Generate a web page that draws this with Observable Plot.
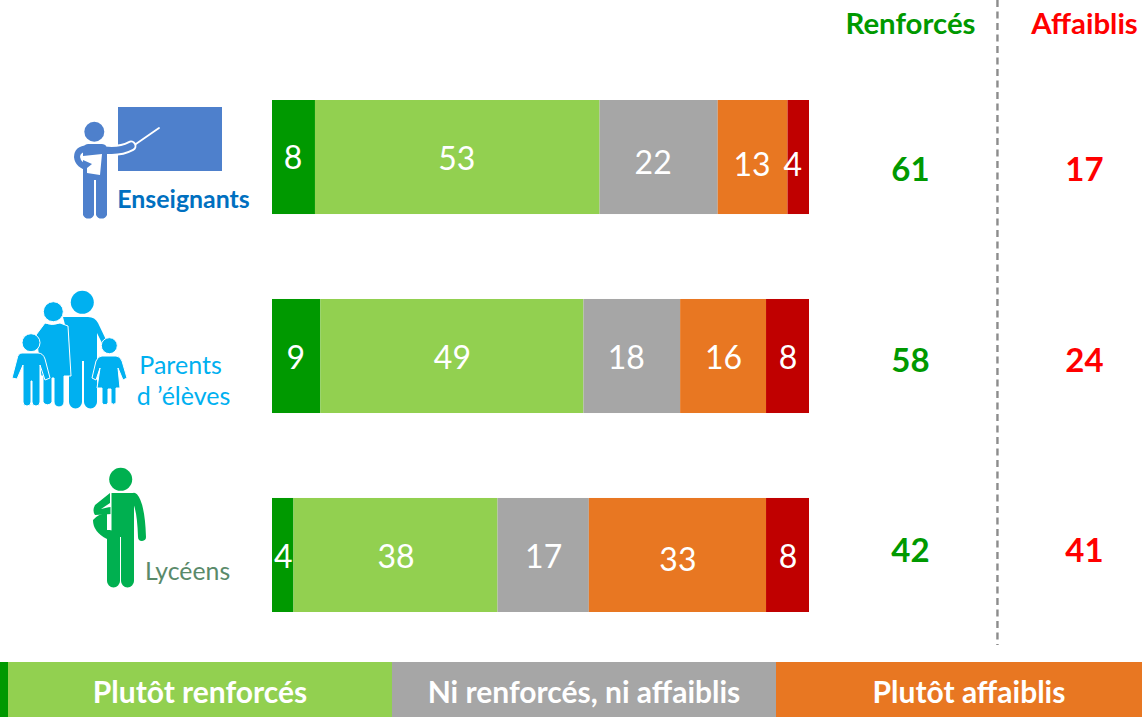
<!DOCTYPE html>
<html lang="fr">
<head>
<meta charset="utf-8">
<script src="https://cdn.jsdelivr.net/npm/d3@7"></script>
<script src="https://cdn.jsdelivr.net/npm/@observablehq/plot@0.6"></script>
<style>
html,body{margin:0;padding:0;background:#fff;overflow:hidden}
svg{display:block}
#legend{display:flex;height:55px;font:700 30px Lato,sans-serif;color:#fff}
#legend div{display:flex;align-items:center;justify-content:center;white-space:nowrap;box-sizing:border-box;padding-top:2px}
</style>
</head>
<body>
<div id="chart"></div>
<div id="legend"></div>
<script>
const groups = ["Enseignants", "Parents d'élèves", "Lycéens"];
const levels = ["Très renforcés", "Plutôt renforcés", "Ni renforcés, ni affaiblis", "Plutôt affaiblis", "Très affaiblis"];
const levelColors = ["#009900", "#92D050", "#A6A6A6", "#E87722", "#C00000"];
const enseignants = [8, 53, 22, 13, 4];
const parents = [9, 49, 18, 16, 8];
const lyceens = [4, 38, 17, 33, 8];
const renforces = [61, 58, 42];
const affaiblis = [17, 24, 41];
const legendNames = ["", "Plutôt renforcés", "Ni renforcés, ni affaiblis", "Plutôt affaiblis"];
const legendColors = ["#009900", "#92D050", "#A6A6A6", "#E87722"];
const legendWidths = [8, 384, 384, 366];

// Small hand adjustments of the labels, as seen in the reference (pixels)
const nudgeX = [[-1,-1,-6,-1,-6],[-1,0,-6,0,0],[0,0,0,0,0]];
const nudgeY = [[1,2,6,8,8],[2,2,2,2,2],[2,2,2,5,2]];
const totalNudgeY = [13, 5, -4];

const rows = [enseignants, parents, lyceens];
const cells = [];
const labels = [];
rows.forEach((vals, r) => {
  let cum = 0;
  vals.forEach((v, i) => {
    cells.push({group: groups[r], level: levels[i], x1: cum, x2: cum + v});
    labels.push({group: groups[r], value: v, mid: cum + v / 2, dx: nudgeX[r][i], dy: nudgeY[r][i]});
    cum += v;
  });
});
const totals = groups.map((g, i) => ({group: g, plus: renforces[i], minus: affaiblis[i], dy: totalNudgeY[i]}));

const FONT = "Lato, sans-serif";

function icons() {
  const g = d3.create("svg:g");
  const path = (d, o) => { const p = g.append("path").attr("d", d); for (const k in o) p.attr(k, o[k]); return p; };
  const circ = (cx, cy, r, fill) => g.append("circle").attr("cx", cx).attr("cy", cy).attr("r", r).attr("fill", fill);
  const line = (d, c, w) => path(d, {fill: "none", stroke: c, "stroke-width": w, "stroke-linecap": "round", "stroke-linejoin": "round"});

  // Teacher
  const t = "#4E80CC";
  g.append("rect").attr("x", 118).attr("y", 107).attr("width", 104).attr("height", 64).attr("fill", t);
  line("M133,146L159,128", "#fff", 1.8);
  line("M104,150Q120,152 131,146", "#fff", 11);
  circ(94.3, 131.7, 10, t);
  path("M88,144H102Q107,144 107,150V215A6,6 0 0 1 96,215V180H94V215A6,6 0 0 1 83,215V152Q83,144 88,144Z", {fill: t});
  line("M104,150Q120,152 131,146", t, 7);
  line("M88,148Q77,149 77,157Q78,166 90,168", t, 6);
  path("M83,156L102,154L100,175L87,173L87,168L92,164L83,160Z", {fill: "#fff"});

  // Family
  const f = "#00B0F0";
  circ(82.3, 302.3, 11.5, f);
  path("M63,317H88Q95,317 98,323L108,344L104,347L97,333V402A6,6 0 0 1 84,402V361H82V402A6,6 0 0 1 69,402V340Z", {fill: f});
  path("M45,323Q52,326 60,323L68,326L71,376H64V402A5,5 0 0 1 54,402V378H52V402A5,5 0 0 1 43,402V376H41L36,335Z", {fill: f, stroke: "#fff", "stroke-width": 1});
  circ(53.3, 311.7, 10, f).attr("stroke", "#fff");
  path("M22,353H38Q43,353 45,359L50,378L45,380L40,365V402A4,4 0 0 1 32,402V381H31V402A4,4 0 0 1 23,402V365L17,379L12,378L17,359Q18,353 22,353Z", {fill: f, stroke: "#fff", "stroke-width": 1});
  circ(31, 342.7, 9, f).attr("stroke", "#fff");
  path("M102,356H116Q120,356 122,361L127,378L123,380L118,368L120,388H116V403A3.5,3.5 0 0 1 111,403V389H108V403A3.5,3.5 0 0 1 102,403V388H97L100,368L96,380L92,378L96,361Q98,356 102,356Z", {fill: f, stroke: "#fff", "stroke-width": 1});
  circ(109.3, 345.7, 8, f).attr("stroke", "#fff");

  // Student
  const s = "#00B050";
  circ(120.7, 479.3, 11.5, s);
  path("M107,513A20,20 0 0 0 93,520Q93,532 107,539Z", {fill: s});
  path("M111,493V530H107V581A6.5,6.5 0 0 0 120,581V537H121V581A6.5,6.5 0 0 0 134,581V493Z", {fill: s});
  line("M134,497Q141,505 142,537", s, 8);
  path("M110,493L95,505Q92,511 95,515L112,514L115,507Q113,506 101,509L110,503Z", {fill: s});
  line("M111,493V530", "#fff", 1);
  return g.node();
}

const plot = Plot.plot({
  width: 1142,
  height: 662,
  marginTop: 0, marginRight: 0, marginBottom: 17, marginLeft: 0,
  style: {fontFamily: FONT, background: "#fff"},
  x: {domain: [0, 100], range: [272, 809], axis: null},
  y: {domain: groups, range: [100, 612], paddingInner: 0.427, paddingOuter: 0, round: false, axis: null, type: "band"},
  color: {domain: levels, range: levelColors},
  marks: [
    Plot.barX(cells, {x1: "x1", x2: "x2", y: "group", fill: "level", inset: 0}),
    ...d3.flatGroup(labels, d => d.dx, d => d.dy).map(([dx, dy, items]) =>
      Plot.text(items, {x: "mid", y: "group", text: "value", dx, dy, fill: "#fff", fontSize: 32})),
    Plot.ruleX([135], {stroke: "#8C8C8C", strokeWidth: 2.4, strokeDasharray: "7 4.5"}),
    Plot.text(["Renforcés"], {frameAnchor: "top-left", dx: 910, dy: 24, lineAnchor: "middle", textAnchor: "middle", fill: "#009900", fontWeight: 700, fontSize: 29.4}),
    Plot.text(["Affaiblis"], {frameAnchor: "top-left", dx: 1084, dy: 24, lineAnchor: "middle", textAnchor: "middle", fill: "#FF0000", fontWeight: 700, fontSize: 29.4}),
    ...totals.map(d => Plot.text([d], {y: "group", frameAnchor: "left", dx: 910, dy: d.dy, text: "plus", textAnchor: "middle", fill: "#009900", fontWeight: 700, fontSize: 33})),
    ...totals.map(d => Plot.text([d], {y: "group", frameAnchor: "left", dx: 1084, dy: d.dy, text: "minus", textAnchor: "middle", fill: "#FF0000", fontWeight: 700, fontSize: 33})),
    icons,
    Plot.text(["Enseignants"], {frameAnchor: "top-left", dx: 183, dy: 200, lineAnchor: "middle", textAnchor: "middle", fill: "#0070C0", fontWeight: 700, fontSize: 24.9}),
    Plot.text(["Parents"], {frameAnchor: "top-left", dx: 180, dy: 365, lineAnchor: "middle", textAnchor: "middle", fill: "#00B0F0", fontSize: 25}),
    Plot.text(["d ’élèves"], {frameAnchor: "top-left", dx: 183, dy: 396, lineAnchor: "middle", textAnchor: "middle", fill: "#00B0F0", fontSize: 25}),
    Plot.text(["Lycéens"], {frameAnchor: "top-left", dx: 187, dy: 572, lineAnchor: "middle", textAnchor: "middle", fill: "#5A8A6A", fontSize: 24.8})
  ]
});
document.getElementById("chart").append(plot);

const legend = document.getElementById("legend");
legendNames.forEach((name, i) => {
  const d = document.createElement("div");
  d.style.width = legendWidths[i] + "px";
  d.style.background = legendColors[i];
  if (i === 3) d.style.paddingLeft = "20px";
  d.textContent = name;
  legend.append(d);
});
</script>
</body>
</html>
